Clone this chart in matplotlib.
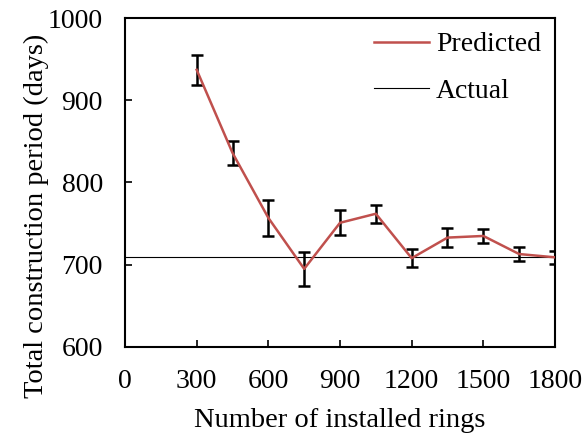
import matplotlib
matplotlib.use("Agg")
import matplotlib.pyplot as plt

rings = [300, 450, 600, 750, 900, 1050, 1200, 1350, 1500, 1650, 1800]
predicted = [937, 836, 757, 695, 751, 762, 708, 733, 735, 713, 709]
errors = [18, 15, 22, 21, 15, 11, 11, 12, 9, 8, 8]
actual = 709
xticks = [0, 300, 600, 900, 1200, 1500, 1800]
yticks = [600, 700, 800, 900, 1000]

plt.rcParams['font.family'] = ['Liberation Serif', 'DejaVu Serif']

fig = plt.figure(figsize=(5.82, 4.38), dpi=100)
ax = fig.add_axes([0.2148, 0.2078, 0.7388, 0.7511])

ax.errorbar(rings, predicted, yerr=errors, fmt='none', ecolor='black',
            elinewidth=1.8, capsize=4, capthick=1.8, zorder=2)
ax.plot(rings, predicted, color='#C0504D', lw=1.8, label='Predicted', zorder=3)
ax.axhline(actual, color='black', lw=0.8, label='Actual', zorder=2)

ax.set_xlim(0, 1800)
ax.set_ylim(600, 1000)
ax.set_xticks(xticks)
ax.set_yticks(yticks)
ax.tick_params(direction='in', length=5, width=1.2, labelsize=20, pad=16,
               top=False, right=False)
for s in ax.spines.values():
    s.set_linewidth(1.5)

ax.set_xlabel('Number of installed rings', fontsize=20.5, labelpad=10)
ax.set_ylabel('Total construction period (days)', fontsize=20.5, labelpad=8)
ax.yaxis.set_label_coords(-0.176, 0.40)

ax.legend(loc='upper right', frameon=False, fontsize=20, handlelength=2.0,
          handletextpad=0.25, labelspacing=0.75, borderaxespad=0.2,
          borderpad=0.3)

fig.savefig('out.png', dpi=100)
